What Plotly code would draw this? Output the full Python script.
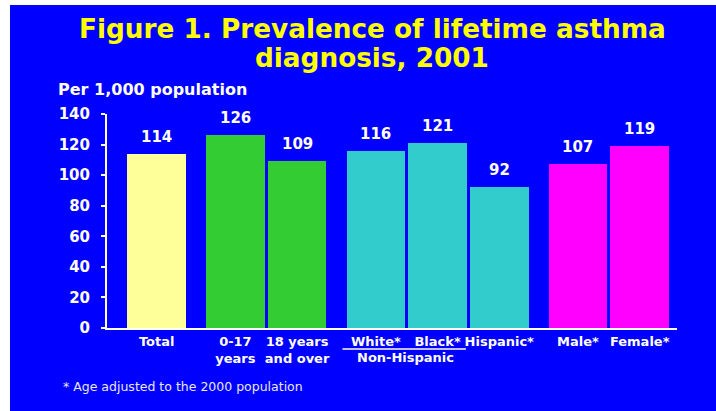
import plotly.graph_objects as go

# ---- data ----
categories = ["Total", "0-17<br>years", "18 years<br>and over", "White*", "Black*",
              "Hispanic*", "Male*", "Female*"]
values = [114, 126, 109, 116, 121, 92, 107, 119]
groups = ["Total", "Age", "Age", "Race", "Race", "Race", "Sex", "Sex"]
y_ticks = [0, 20, 40, 60, 80, 100, 120, 140]

# ---- styles / layout constants ----
group_colors = {"Total": "#FFFF99", "Age": "#33CC33", "Race": "#33CCCC", "Sex": "#FF00FF"}
W, H = 716, 411
ML, MR, MT, MB = 107, 39, 114, 83
PW, PH = W - ML - MR, H - MT - MB
BAR_W = 0.951
GROUP_GAP = 0.276
FONT = "DejaVu Sans, Arial, sans-serif"
BLUE = "#0000FF"


def px_x(px):
    return (px - ML) / PW


def px_y(py):
    return (H - MB - py) / PH


# positions from group structure
group_order = []
for g in groups:
    if g not in group_order:
        group_order.append(g)
positions = [i + GROUP_GAP * group_order.index(g) for i, g in enumerate(groups)]
colors = [group_colors[g] for g in groups]

fig = go.Figure()
fig.add_trace(go.Bar(
    x=positions, y=values, width=BAR_W,
    marker=dict(color=colors, line=dict(width=0)),
    hoverinfo="skip", showlegend=False,
))

annotations = []
for x, v in zip(positions, values):
    annotations.append(dict(
        x=x, y=v, xref="x", yref="y", text=str(v), showarrow=False,
        yanchor="bottom", yshift=6,
        font=dict(family=FONT, size=15, color="white", weight="bold"),
    ))

# title lines
annotations.append(dict(
    x=px_x(372), y=px_y(46), xref="paper", yref="paper", yanchor="bottom",
    text="Figure 1. Prevalence of lifetime asthma", showarrow=False,
    font=dict(family=FONT, size=26.3, color="#FFFF00", weight="bold"),
))
annotations.append(dict(
    x=px_x(372), y=px_y(75), xref="paper", yref="paper", yanchor="bottom",
    text="diagnosis, 2001", showarrow=False,
    font=dict(family=FONT, size=26.3, color="#FFFF00", weight="bold"),
))
# axis unit label
annotations.append(dict(
    x=px_x(55.5), y=px_y(101), xref="paper", yref="paper", xanchor="left", yanchor="bottom",
    text="Per 1,000 population", showarrow=False,
    font=dict(family=FONT, size=16, color="white", weight="bold"),
))
# Non-Hispanic group label
i_w, i_b = categories.index("White*"), categories.index("Black*")
annotations.append(dict(
    x=px_x(405), y=px_y(367), xref="paper", yref="paper", yanchor="bottom",
    text="Non-Hispanic", showarrow=False,
    font=dict(family=FONT, size=13, color="white", weight="bold"),
))
# footnote
annotations.append(dict(
    x=px_x(61), y=px_y(396), xref="paper", yref="paper", xanchor="left", yanchor="bottom",
    text="* Age adjusted to the 2000 population", showarrow=False,
    font=dict(family=FONT, size=12.5, color="#E8E8FF"),
))

shapes = [
    # white strips at the left and top edge of the slide (kept inside the figure)
    dict(type="rect", xref="paper", yref="paper", layer="below",
         x0=px_x(0), x1=px_x(10), y0=px_y(H), y1=px_y(0),
         fillcolor="white", line=dict(width=0)),
    dict(type="rect", xref="paper", yref="paper", layer="below",
         x0=px_x(0), x1=px_x(W), y0=px_y(5), y1=px_y(0),
         fillcolor="white", line=dict(width=0)),
    # underline for Non-Hispanic group
    dict(type="line", xref="x", yref="paper",
         x0=positions[i_w] - BAR_W / 2 - 0.065, x1=positions[i_b] + BAR_W / 2 - 0.015,
         y0=px_y(349), y1=px_y(349), line=dict(color="white", width=1.5)),
]

fig.update_layout(
    width=W, height=H,
    margin=dict(l=ML, r=MR, t=MT, b=MB, pad=0),
    paper_bgcolor=BLUE, plot_bgcolor=BLUE,
    annotations=annotations, shapes=shapes,
    bargap=0,
    xaxis=dict(
        range=[-0.805, 8.433], tickmode="array", tickvals=positions, ticktext=categories,
        showline=True, linecolor="white", linewidth=2, ticks="", showgrid=False,
        zeroline=False, tickfont=dict(family=FONT, size=13, color="white", weight="bold"),
    ),
    yaxis=dict(
        range=[0, 140], tickmode="array", tickvals=y_ticks,
        showline=True, linecolor="white", linewidth=2, ticks="outside", ticklen=4,
        tickwidth=2, tickcolor="white", showgrid=False, zeroline=False,
        ticklabelstandoff=8,
        tickfont=dict(family=FONT, size=15, color="white", weight="bold"),
    ),
)

fig.write_html(
    "out.html",
    config={"displayModeBar": False},
    post_script=("document.body.style.margin='0px';"
                 "document.body.style.overflow='hidden';"
                 "document.documentElement.style.overflow='hidden';"),
)
